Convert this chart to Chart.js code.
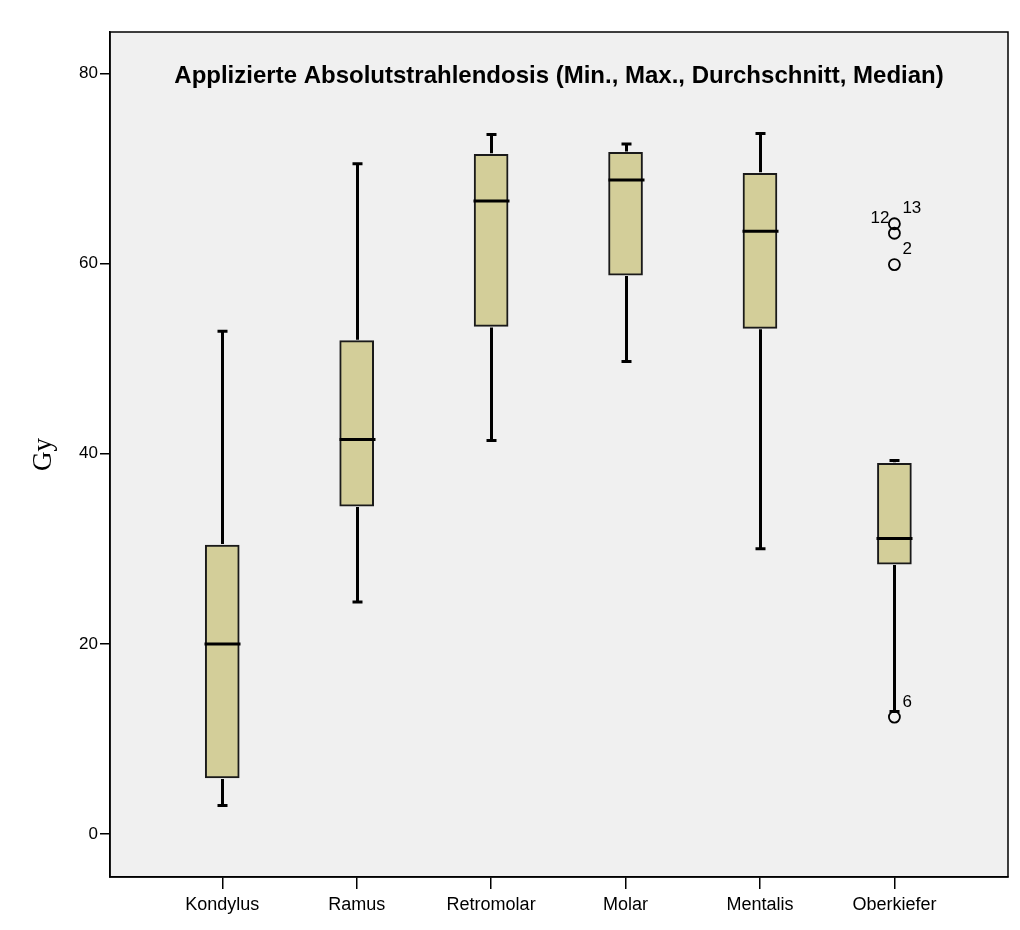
<!DOCTYPE html>
<html>
<head>
<meta charset="utf-8">
<script src="https://cdn.jsdelivr.net/npm/chart.js@4.4.1/dist/chart.umd.min.js"></script>
<style>html,body{margin:0;padding:0;background:#fff}canvas{display:block}</style>
</head>
<body>
<canvas id="c" width="1020" height="930"></canvas>
<script>
const categories = ['Kondylus', 'Ramus', 'Retromolar', 'Molar', 'Mentalis', 'Oberkiefer'];
const whiskerLow  = [3.0, 24.4, 41.4, 49.7, 30.0, 12.9];
const q1          = [5.9, 34.5, 53.4, 58.8, 53.2, 28.4];
const median      = [20.0, 41.5, 66.6, 68.8, 63.4, 31.1];
const q3          = [30.4, 51.9, 71.5, 71.7, 69.5, 39.0];
const whiskerHigh = [52.9, 70.5, 73.6, 72.6, 73.7, 39.3];
const outlierCategory = [5, 5, 5, 5];
const outlierValues   = [12.3, 59.9, 63.2, 64.2];
const outlierLabels   = ['6', '2', '12', '13'];
const yTicks = [0, 20, 40, 60, 80];
const titleText = 'Applizierte Absolutstrahlendosis (Min., Max., Durchschnitt, Median)';
const yTitle = 'Gy';

const labelSide = ['right', 'right', 'left', 'right'];

const boxPlugin = {
  id: 'boxExtras',
  beforeDraw(chart) {
    const {ctx, chartArea: a} = chart;
    ctx.save();
    ctx.fillStyle = '#f0f0f0';
    ctx.fillRect(a.left, a.top, a.right - a.left, a.bottom - a.top);
    ctx.restore();
  },
  afterDatasetsDraw(chart) {
    const {ctx, chartArea: a} = chart;
    const xs = chart.scales.x, ys = chart.scales.y;
    ctx.save();
    ctx.strokeStyle = '#000';
    ctx.lineCap = 'butt';
    categories.forEach((c, i) => {
      const x = Math.round(xs.getPixelForValue(i)) + 0.5;
      const yH = ys.getPixelForValue(whiskerHigh[i]);
      const yQ3 = ys.getPixelForValue(q3[i]);
      const yQ1 = ys.getPixelForValue(q1[i]);
      const yL = ys.getPixelForValue(whiskerLow[i]);
      const yM = ys.getPixelForValue(median[i]);
      ctx.lineWidth = 3;
      ctx.beginPath();
      ctx.moveTo(x, yQ3 - 1); ctx.lineTo(x, yH);
      ctx.moveTo(x, yQ1 + 1); ctx.lineTo(x, yL);
      ctx.stroke();
      ctx.beginPath();
      ctx.moveTo(x - 5, yH); ctx.lineTo(x + 5, yH);
      ctx.moveTo(x - 5, yL); ctx.lineTo(x + 5, yL);
      ctx.stroke();
      ctx.beginPath();
      ctx.moveTo(x - 18, yM); ctx.lineTo(x + 18, yM);
      ctx.stroke();
    });
    ctx.fillStyle = '#000';
    ctx.font = '17px "Liberation Sans", Arial, sans-serif';
    ctx.textBaseline = 'middle';
    outlierValues.forEach((v, i) => {
      const x = xs.getPixelForValue(outlierCategory[i]);
      const y = ys.getPixelForValue(v);
      if (labelSide[i] === 'left') {
        ctx.textAlign = 'right';
        ctx.fillText(outlierLabels[i], x - 5, y - 15);
      } else {
        ctx.textAlign = 'left';
        ctx.fillText(outlierLabels[i], x + 8, y - 15);
      }
    });
    ctx.font = 'bold 24px "Liberation Sans", Arial, sans-serif';
    ctx.textAlign = 'center';
    ctx.fillText(titleText, (a.left + a.right) / 2, a.top + 44);
    ctx.restore();
  },
  afterDraw(chart) {
    const {ctx, chartArea: a} = chart;
    ctx.save();
    ctx.strokeStyle = '#000';
    ctx.lineWidth = 1.5;
    ctx.strokeRect(a.left, a.top, a.right - a.left, a.bottom - a.top);
    ctx.restore();
  }
};

new Chart(document.getElementById('c'), {
  type: 'bar',
  data: {
    datasets: [
      {
        type: 'bar',
        data: categories.map((c, i) => ({x: i, y: [q1[i], q3[i]]})),
        backgroundColor: '#d3ce99',
        borderColor: '#1a1a1a',
        borderWidth: 2,
        borderSkipped: false,
        barThickness: 34,
        order: 2
      },
      {
        type: 'scatter',
        data: outlierValues.map((v, i) => ({x: outlierCategory[i], y: v})),
        pointStyle: 'circle',
        pointRadius: 5.5,
        borderColor: '#000',
        borderWidth: 1.8,
        backgroundColor: 'rgba(0,0,0,0)',
        order: 1
      }
    ]
  },
  options: {
    responsive: false,
    animation: false,
    devicePixelRatio: 1,
    layout: {padding: {top: 32, right: 12, left: 0, bottom: 0}},
    plugins: {legend: {display: false}, tooltip: {enabled: false}, title: {display: false}},
    scales: {
      x: {
        type: 'linear',
        offset: false,
        min: -0.835,
        max: 5.845,
        afterBuildTicks: s => { s.ticks = categories.map((c, i) => ({value: i})); },
        afterFit: s => { s.height = 53; },
        ticks: {
          callback: v => categories[v],
          font: {family: '"Liberation Sans", Arial, sans-serif', size: 18},
          color: '#000',
          padding: 5,
          maxRotation: 0,
          autoSkip: false
        },
        grid: {offset: false, drawOnChartArea: false, tickLength: 12, color: '#000', lineWidth: 1.5},
        border: {color: '#000', width: 1.5}
      },
      y: {
        min: -4.52,
        max: 84.37,
        afterBuildTicks: s => { s.ticks = yTicks.map(v => ({value: v})); },
        afterFit: s => { s.width = 110; },
        ticks: {
          font: {family: '"Liberation Sans", Arial, sans-serif', size: 17},
          color: '#000',
          padding: 2
        },
        grid: {drawOnChartArea: false, tickLength: 10, color: '#000', lineWidth: 1.5},
        border: {color: '#000', width: 1.5},
        title: {
          display: true,
          text: yTitle,
          font: {family: '"Liberation Serif", "Times New Roman", serif', size: 27},
          color: '#000',
          padding: {top: 28, bottom: 0}
        }
      }
    }
  },
  plugins: [boxPlugin]
});
</script>
</body>
</html>
